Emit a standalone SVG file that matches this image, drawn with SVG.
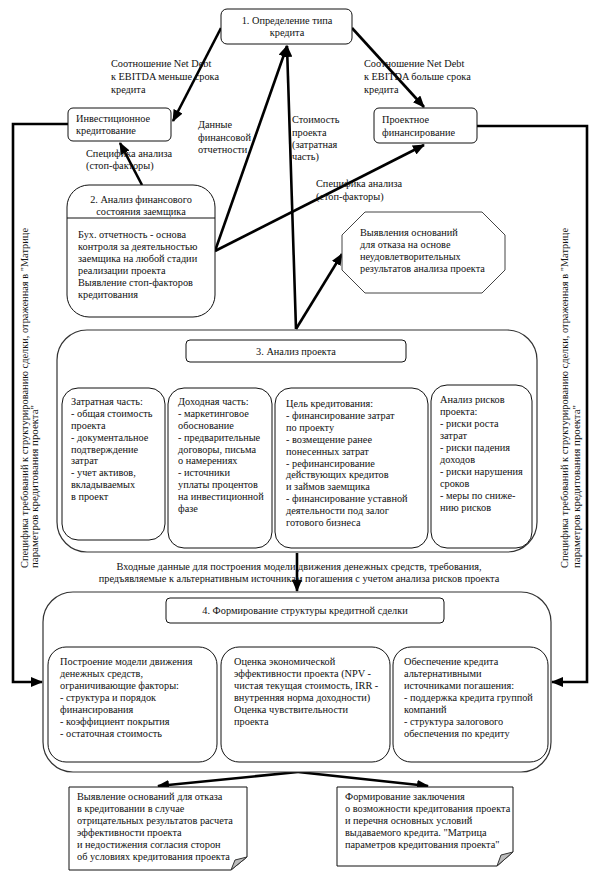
<svg xmlns="http://www.w3.org/2000/svg" width="614" height="872" viewBox="0 0 614 872" font-family="'Liberation Serif','Times New Roman',serif">
<style>
text{font-family:"Liberation Serif","Times New Roman",serif;font-size:10.3px;fill:#111}
.c{text-anchor:middle}
.box{fill:#fff;stroke:#111;stroke-width:1}
.big{fill:#fff;stroke:#333;stroke-width:1.2}
.oct{fill:#fff;stroke:#444;stroke-width:1}
.ln{fill:none;stroke:#000;stroke-width:2.6}
.ar{fill:none;stroke:#000;stroke-width:2.6;marker-end:url(#ah)}
.fold{fill:#bbb;stroke:#333;stroke-width:1}
</style>
<defs>
<marker id="ah" markerUnits="userSpaceOnUse" markerWidth="12" markerHeight="10" refX="11" refY="5" orient="auto">
<path d="M0,0 L12,5 L0,10 Z" fill="#000"/>
</marker>
</defs>
<rect width="614" height="872" fill="#fff"/>

<g id="connectors">
<line class="ar" x1="221" y1="28" x2="173" y2="121"/>
<line class="ar" x1="352" y1="28" x2="424" y2="107"/>
<line class="ar" x1="142" y1="185" x2="120" y2="143"/>
<line class="ar" x1="215" y1="251" x2="287" y2="46"/>
<line class="ar" x1="215" y1="251" x2="424" y2="145"/>
<line class="ar" x1="296" y1="329" x2="287" y2="46"/>
<line class="ar" x1="296" y1="329" x2="342" y2="254"/>
<polyline class="ar" points="68,124 13,124 13,682 42,682"/>
<polyline class="ar" points="477,126 587,126 587,682 552,682"/>
<polyline class="ln" points="297,362 297,373"/>
<line class="ln" x1="115" y1="373" x2="482" y2="373"/>
<line class="ar" x1="115" y1="373" x2="115" y2="387"/>
<line class="ar" x1="220" y1="373" x2="220" y2="387"/>
<line class="ar" x1="351" y1="373" x2="351" y2="387"/>
<line class="ar" x1="482" y1="373" x2="482" y2="384"/>
<line class="ar" x1="297" y1="553" x2="297" y2="591"/>
<line class="ln" x1="133" y1="633" x2="470" y2="633"/>
<line class="ar" x1="305" y1="623" x2="305" y2="646"/>
<line class="ar" x1="133" y1="633" x2="133" y2="646"/>
<line class="ar" x1="470" y1="633" x2="470" y2="646"/>
<line class="ar" x1="298" y1="772" x2="158" y2="786"/>
<line class="ar" x1="298" y1="772" x2="428" y2="786"/>
</g>

<g id="labels">
<text x="111" y="67">Соотношение Net Debt</text>
<text x="111" y="80">к EBITDA меньше срока</text>
<text x="111" y="93">кредита</text>
<text x="364" y="67">Соотношение Net Debt</text>
<text x="364" y="80">к EBITDA больше срока</text>
<text x="364" y="93">кредита</text>
<text x="198" y="128">Данные</text>
<text x="198" y="141">финансовой</text>
<text x="198" y="153">отчетности</text>
<text x="292" y="123">Стоимость</text>
<text x="292" y="136">проекта</text>
<text x="292" y="148">(затратная</text>
<text x="292" y="160">часть)</text>
<text x="86" y="157">Специфика анализа</text>
<text x="86" y="169">(стоп-факторы)</text>
<text x="316" y="187">Специфика анализа</text>
<text x="316" y="200">(стоп-факторы)</text>
<text class="c" x="299" y="570">Входные данные для построения модели движения денежных средств, требования,</text>
<text class="c" x="299" y="582">предъявляемые к альтернативным источникам погашения с учетом анализа рисков проекта</text>
<text transform="translate(28,568) rotate(-90)" textLength="340" lengthAdjust="spacingAndGlyphs">Специфика требований к структурированию сделки, отраженная в "Матрице</text>
<text transform="translate(38,568) rotate(-90)" textLength="163" lengthAdjust="spacingAndGlyphs">параметров кредитования проекта"</text>
<text transform="translate(568,568) rotate(-90)" textLength="340" lengthAdjust="spacingAndGlyphs">Специфика требований к структурированию сделки, отраженная в "Матрице</text>
<text transform="translate(580,568) rotate(-90)" textLength="163" lengthAdjust="spacingAndGlyphs">параметров кредитования проекта"</text>
</g>

<g id="n1">
<rect class="box" x="221" y="9" width="131" height="35" rx="6"/>
<text class="c" x="287" y="24">1. Определение типа</text>
<text class="c" x="287" y="36">кредита</text>
</g>

<g id="n-invest">
<rect class="box" x="68" y="108" width="103" height="33" rx="5"/>
<text x="76" y="122">Инвестиционное</text>
<text x="76" y="134">кредитование</text>
</g>

<g id="n-project">
<rect class="box" x="374" y="108" width="103" height="35" rx="5"/>
<text x="382" y="123">Проектное</text>
<text x="382" y="136">финансирование</text>
</g>

<g id="n2">
<rect class="box" x="67" y="185" width="148" height="132" rx="22"/>
<line x1="67" y1="218" x2="215" y2="218" stroke="#111" stroke-width="1"/>
<text class="c" x="141" y="203">2. Анализ финансового</text>
<text class="c" x="141" y="215">состояния заемщика</text>
<text x="78" y="238">Бух. отчетность - основа</text>
<text x="78" y="250">контроля за деятельностью</text>
<text x="78" y="262">заемщика на любой стадии</text>
<text x="78" y="274">реализации проекта</text>
<text x="78" y="286">Выявление стоп-факторов</text>
<text x="78" y="298">кредитования</text>
</g>

<g id="n-refuse1">
<polygon class="oct" points="365,212 482,212 505,235 505,270 482,293 365,293 342,270 342,235"/>
<text x="360" y="236">Выявления оснований</text>
<text x="360" y="248">для отказа на основе</text>
<text x="360" y="260">неудовлетворительных</text>
<text x="360" y="272">результатов анализа проекта</text>
</g>

<g id="n3">
<rect class="big" x="57" y="330" width="480" height="222" rx="30"/>
<rect class="box" x="186" y="340" width="220" height="22" rx="4"/>
<text class="c" x="296" y="355">3. Анализ проекта</text>
</g>

<g id="n3a">
<rect class="box" x="62" y="388" width="103" height="152" rx="16"/>
<text x="71" y="405">Затратная часть:</text>
<text x="71" y="417">- общая стоимость</text>
<text x="71" y="429">проекта</text>
<text x="71" y="441">- документальное</text>
<text x="71" y="453">подтверждение</text>
<text x="71" y="464">затрат</text>
<text x="71" y="476">- учет активов,</text>
<text x="71" y="488">вкладываемых</text>
<text x="71" y="500">в проект</text>
</g>

<g id="n3b">
<rect class="box" x="168" y="388" width="104" height="160" rx="16"/>
<text x="178" y="405">Доходная часть:</text>
<text x="178" y="417">- маркетинговое</text>
<text x="178" y="429">обоснование</text>
<text x="178" y="441">- предварительные</text>
<text x="178" y="453">договоры, письма</text>
<text x="178" y="464">о намерениях</text>
<text x="178" y="476">- источники</text>
<text x="178" y="488">уплаты процентов</text>
<text x="178" y="500">на инвестиционной</text>
<text x="178" y="512">фазе</text>
</g>

<g id="n3c">
<rect class="box" x="275" y="388" width="153" height="160" rx="16"/>
<text x="286" y="407">Цель кредитования:</text>
<text x="286" y="419">- финансирование затрат</text>
<text x="286" y="431">по проекту</text>
<text x="286" y="443">- возмещение ранее</text>
<text x="286" y="455">понесенных затрат</text>
<text x="286" y="467">- рефинансирование</text>
<text x="286" y="478">действующих кредитов</text>
<text x="286" y="490">и займов заемщика</text>
<text x="286" y="502">- финансирование уставной</text>
<text x="286" y="514">деятельности под залог</text>
<text x="286" y="526">готового бизнеса</text>
</g>

<g id="n3d">
<rect class="box" x="431" y="385" width="101" height="163" rx="16"/>
<text x="440" y="403">Анализ рисков</text>
<text x="440" y="415">проекта:</text>
<text x="440" y="427">- риски роста</text>
<text x="440" y="439">затрат</text>
<text x="440" y="451">- риски падения</text>
<text x="440" y="463">доходов</text>
<text x="440" y="475">- риски нарушения</text>
<text x="440" y="487">сроков</text>
<text x="440" y="499">- меры по сниже-</text>
<text x="440" y="511">нию рисков</text>
</g>

<g id="n4">
<rect class="big" x="43" y="592" width="508" height="180" rx="30"/>
<rect class="box" x="166" y="598" width="278" height="25" rx="4"/>
<text class="c" x="305" y="614">4. Формирование структуры кредитной сделки</text>
</g>

<g id="n4a">
<rect class="box" x="48" y="647" width="169" height="115" rx="18"/>
<text x="60" y="665">Построение модели движения</text>
<text x="60" y="677">денежных средств,</text>
<text x="60" y="689">ограничивающие факторы:</text>
<text x="60" y="701">- структура и порядок</text>
<text x="60" y="713">финансирования</text>
<text x="60" y="725">- коэффициент покрытия</text>
<text x="60" y="737">- остаточная стоимость</text>
</g>

<g id="n4b">
<rect class="box" x="221" y="647" width="169" height="115" rx="18"/>
<text x="234" y="665">Оценка экономической</text>
<text x="234" y="677">эффективности проекта (NPV -</text>
<text x="234" y="689">чистая текущая стоимость, IRR -</text>
<text x="234" y="701">внутренняя норма доходности)</text>
<text x="234" y="713">Оценка чувствительности</text>
<text x="234" y="725">проекта</text>
</g>

<g id="n4c">
<rect class="box" x="393" y="647" width="155" height="115" rx="18"/>
<text x="404" y="665">Обеспечение кредита</text>
<text x="404" y="677">альтернативными</text>
<text x="404" y="689">источниками погашения:</text>
<text x="404" y="701">- поддержка кредита группой</text>
<text x="404" y="713">компаний</text>
<text x="404" y="725">- структура залогового</text>
<text x="404" y="737">обеспечения по кредиту</text>
</g>

<g id="n-refuse2">
<path class="box" d="M69,787 H247 V857 L231,870 H69 Z"/>
<path class="fold" d="M231,870 L235,860 L247,857 Z"/>
<text x="77" y="800">Выявление оснований для отказа</text>
<text x="77" y="812">в кредитовании в случае</text>
<text x="77" y="824">отрицательных результатов расчета</text>
<text x="77" y="836">эффективности проекта</text>
<text x="77" y="848">и недостижения согласия сторон</text>
<text x="77" y="860">об условиях кредитования проекта</text>
</g>

<g id="n-conclusion">
<path class="box" d="M337,787 H513 V852 L497,866 H337 Z"/>
<path class="fold" d="M497,866 L501,855 L513,852 Z"/>
<text x="345" y="800">Формирование заключения</text>
<text x="345" y="812">о возможности кредитования проекта</text>
<text x="345" y="824">и перечня основных условий</text>
<text x="345" y="836">выдаваемого кредита. "Матрица</text>
<text x="345" y="848">параметров кредитования проекта"</text>
</g>
</svg>
